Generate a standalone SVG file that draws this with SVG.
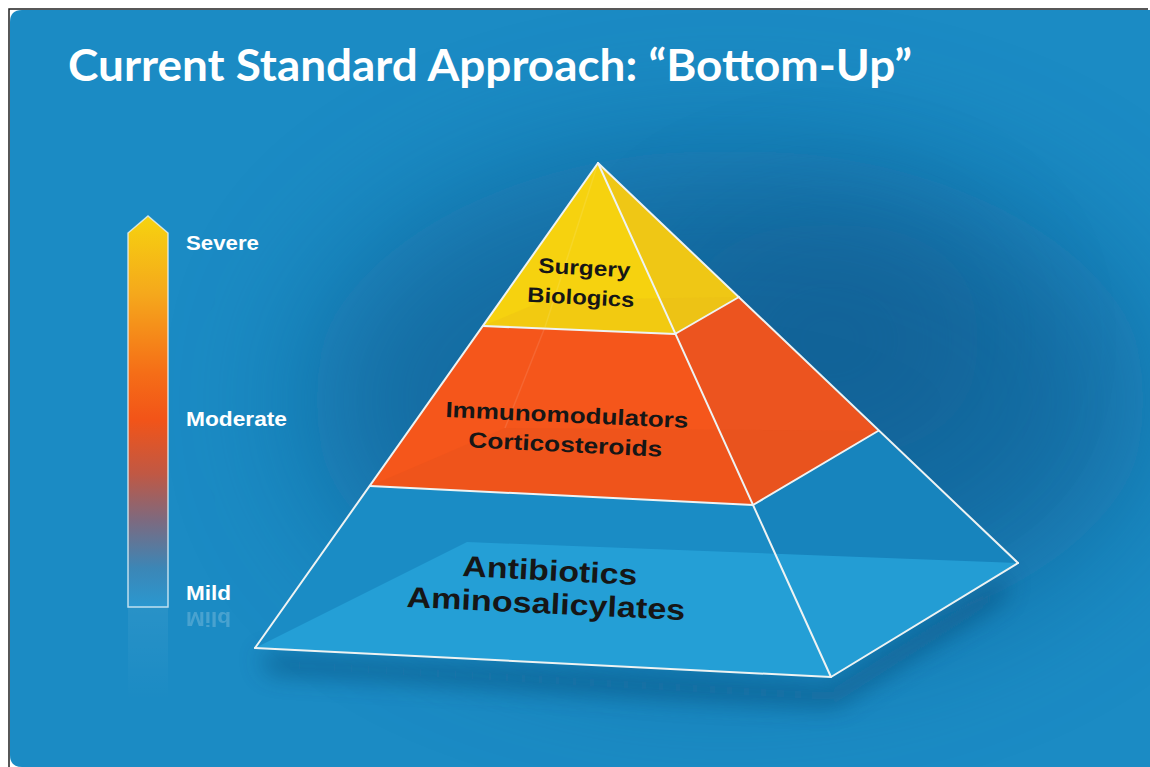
<svg xmlns="http://www.w3.org/2000/svg" width="1150" height="767" viewBox="0 0 1150 767">
<defs>
  <filter id="blurBig" x="-60%" y="-60%" width="220%" height="220%"><feGaussianBlur stdDeviation="70"/></filter>
  <filter id="blurMid" x="-30%" y="-30%" width="160%" height="160%"><feGaussianBlur stdDeviation="12"/></filter>
  <linearGradient id="scaleGrad" x1="0" y1="216" x2="0" y2="607" gradientUnits="userSpaceOnUse">
    <stop offset="0" stop-color="#f6d30f"/>
    <stop offset="0.2" stop-color="#f5a81c"/>
    <stop offset="0.4" stop-color="#f56e17"/>
    <stop offset="0.52" stop-color="#f25418"/>
    <stop offset="0.66" stop-color="#c05844"/>
    <stop offset="0.78" stop-color="#7c6a80"/>
    <stop offset="0.9" stop-color="#3c86b6"/>
    <stop offset="1" stop-color="#2a98d0"/>
  </linearGradient>
  <linearGradient id="reflGrad" x1="0" y1="607" x2="0" y2="700" gradientUnits="userSpaceOnUse">
    <stop offset="0" stop-color="#ffffff" stop-opacity="0.06"/>
    <stop offset="1" stop-color="#ffffff" stop-opacity="0"/>
  </linearGradient>
  <style>
    .edge{fill:none;stroke:#eef3f3;stroke-width:2;stroke-linejoin:round;stroke-linecap:round}
    .faint{fill:none;stroke:#ffffff;stroke-opacity:0.1;stroke-width:1.5}
    .lbl{font-family:"Liberation Sans",Arial,sans-serif;font-weight:bold;fill:#ffffff;font-size:20px}
    .tier{font-family:"Liberation Sans",Arial,sans-serif;font-weight:bold;fill:#161616;text-anchor:middle}
    .title{font-family:Lato,"Open Sans",sans-serif;font-weight:bold;fill:#ffffff;font-size:44px}
  </style>
</defs>

<rect x="0" y="0" width="1150" height="767" fill="#ffffff"/>
<g id="background">
  <path d="M10,22 Q10,10 22,10 H1150 V767 H22 Q10,767 10,755 Z" fill="#1b8bc4"/>
  <ellipse cx="730" cy="400" rx="420" ry="250" fill="#0c4e80" opacity="0.5" filter="url(#blurBig)"/>
  <ellipse cx="830" cy="340" rx="160" ry="120" fill="#0c4e80" opacity="0.3" filter="url(#blurBig)"/>
  <path d="M9,767 V9 H1148" fill="none" stroke="#202020" stroke-width="1.5"/>
</g>

<text class="title" x="68" y="81" textLength="844" lengthAdjust="spacingAndGlyphs">Current Standard Approach: “Bottom-Up”</text>

<g id="severity-scale">
  <rect x="128" y="607" width="40" height="95" fill="url(#reflGrad)"/>
  <path d="M128,607 V233 L148,216 L168,233 V607 Z" fill="url(#scaleGrad)" stroke="#e6f2f8" stroke-opacity="0.8" stroke-width="1.5"/>
  <text class="lbl" x="186" y="250" textLength="73" lengthAdjust="spacingAndGlyphs">Severe</text>
  <text class="lbl" x="186" y="426" textLength="101" lengthAdjust="spacingAndGlyphs">Moderate</text>
  <text class="lbl" x="186" y="600" textLength="45" lengthAdjust="spacingAndGlyphs">Mild</text>
  <text class="lbl" x="186" y="600" textLength="45" lengthAdjust="spacingAndGlyphs" transform="translate(0,1212) scale(1,-1)" opacity="0.2">Mild</text>
</g>

<g id="pyramid-shadow">
  <polygon points="260,655 831,688 1010,575 1000,600 835,705 270,672" fill="#0a4570" opacity="0.6" filter="url(#blurMid)"/>
</g>

<g id="tier-base">
  <polygon points="370,486 753,505 831,677 255,648" fill="#1a8cc5"/>
  <polygon points="753,505 878,431 1018,563 831,677" fill="#1784bd"/>
  <polygon points="255,648 467,542 1018,563 831,677" fill="#28a6dc" opacity="0.72"/>
  <text class="tier" font-size="29" x="549.5" y="580.5" textLength="175" lengthAdjust="spacingAndGlyphs" transform="rotate(2.9 549.5 580.5)">Antibiotics</text>
  <text class="tier" font-size="29" x="545.5" y="613.5" textLength="279" lengthAdjust="spacingAndGlyphs" transform="rotate(2.7 545.5 613.5)">Aminosalicylates</text>
</g>

<g id="tier-middle">
  <polygon points="483,326 675,334 753,505 370,486" fill="#f5561b"/>
  <polygon points="675,334 739,297 878,431 753,505" fill="#ec541f"/>
  <polygon points="370,486 505,428 878,431 753,505" fill="#e04e1c" opacity="0.25"/>
  <line class="faint" x1="545" y1="327" x2="505" y2="428"/>
  <text class="tier" font-size="22" x="566.5" y="422.5" textLength="243" lengthAdjust="spacingAndGlyphs" transform="rotate(2.6 566.5 422.5)">Immunomodulators</text>
  <text class="tier" font-size="22" x="565" y="452" textLength="194" lengthAdjust="spacingAndGlyphs" transform="rotate(2.8 565 452)">Corticosteroids</text>
</g>

<g id="tier-top">
  <polygon points="598,163 675,334 483,326" fill="#f6d20f"/>
  <polygon points="598,163 739,297 675,334" fill="#efc715"/>
  <polygon points="483,326 545,300 739,297 675,334" fill="#e8b818" opacity="0.3"/>
  <line class="faint" x1="598" y1="163" x2="545" y2="327"/>
  <text class="tier" font-size="21" x="584" y="275" textLength="92" lengthAdjust="spacingAndGlyphs" transform="rotate(3 584 275)">Surgery</text>
  <text class="tier" font-size="21" x="580.5" y="304.5" textLength="107" lengthAdjust="spacingAndGlyphs" transform="rotate(2.9 580.5 304.5)">Biologics</text>
</g>

<g id="connectors">
  <polyline class="edge" points="255,648 598,163 1018,563"/>
  <line class="edge" x1="598" y1="163" x2="831" y2="677"/>
  <polyline class="edge" points="255,648 831,677 1018,563"/>
  <polyline class="edge" points="483,326 675,334 739,297"/>
  <polyline class="edge" points="370,486 753,505 878,431"/>
</g>
</svg>
